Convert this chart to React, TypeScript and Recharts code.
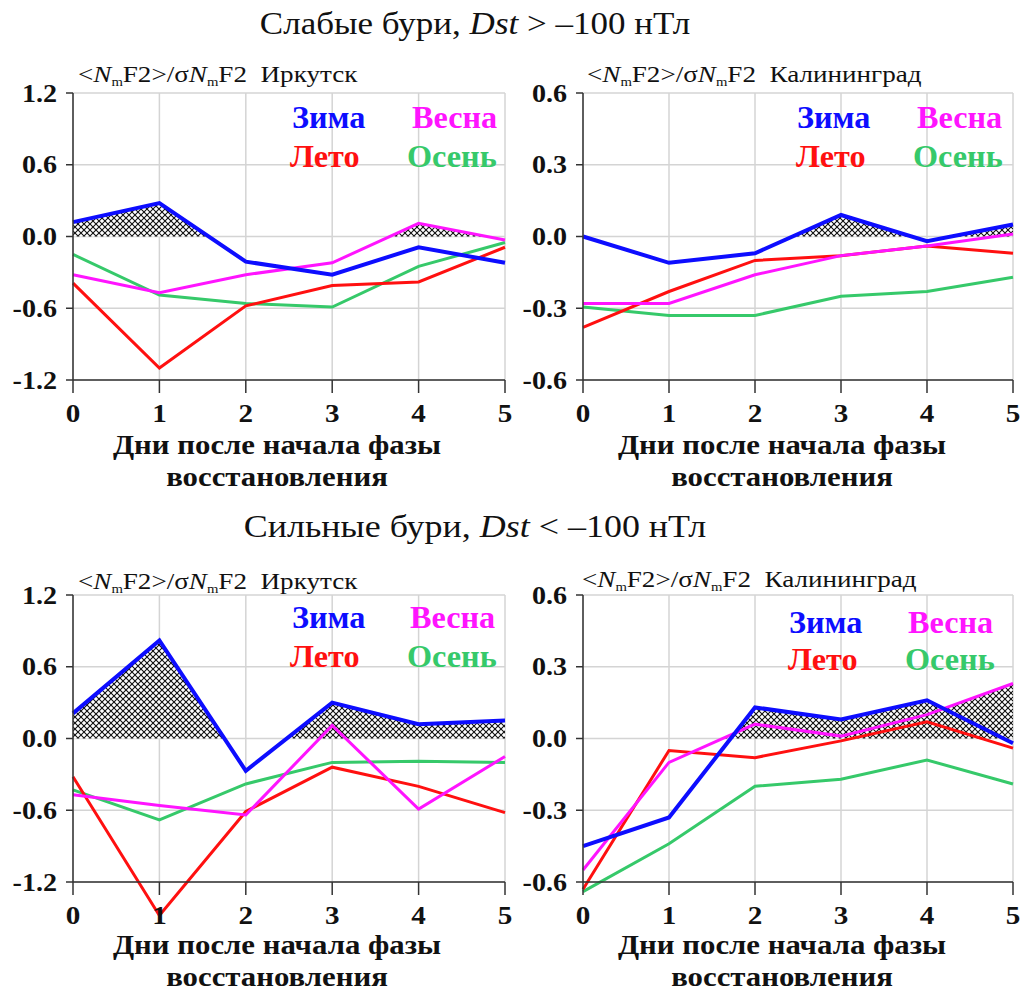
import React from 'react';
import { ComposedChart, Line, Area, XAxis, YAxis, CartesianGrid } from 'recharts';

// ---------- data ----------
const days = [0, 1, 2, 3, 4, 5];
const xTicks = [0, 1, 2, 3, 4, 5];
const yTicksIrk = [-1.2, -0.6, 0, 0.6, 1.2];
const yTicksKal = [-0.6, -0.3, 0, 0.3, 0.6];

const seasonNames = ['Зима', 'Весна', 'Лето', 'Осень'];

// weak storms, Irkutsk
const weakIrkWinter = [0.12, 0.28, -0.21, -0.32, -0.09, -0.22];
const weakIrkSpring = [-0.32, -0.47, -0.32, -0.22, 0.11, -0.03];
const weakIrkSummer = [-0.39, -1.1, -0.58, -0.41, -0.38, -0.09];
const weakIrkAutumn = [-0.15, -0.49, -0.56, -0.59, -0.25, -0.05];

// weak storms, Kaliningrad
const weakKalWinter = [0.0, -0.11, -0.07, 0.09, -0.02, 0.05];
const weakKalSpring = [-0.28, -0.28, -0.16, -0.08, -0.04, 0.01];
const weakKalSummer = [-0.38, -0.23, -0.1, -0.08, -0.04, -0.07];
const weakKalAutumn = [-0.295, -0.33, -0.33, -0.25, -0.23, -0.17];

// strong storms, Irkutsk
const strongIrkWinter = [0.21, 0.82, -0.27, 0.3, 0.12, 0.15];
const strongIrkSpring = [-0.47, -0.56, -0.64, 0.11, -0.59, -0.15];
const strongIrkSummer = [-0.32, -1.48, -0.61, -0.24, -0.4, -0.62];
const strongIrkAutumn = [-0.43, -0.68, -0.38, -0.2, -0.19, -0.2];

// strong storms, Kaliningrad
const strongKalWinter = [-0.45, -0.33, 0.13, 0.08, 0.16, -0.02];
const strongKalSpring = [-0.55, -0.1, 0.06, 0.01, 0.1, 0.23];
const strongKalSummer = [-0.63, -0.05, -0.08, -0.01, 0.07, -0.04];
const strongKalAutumn = [-0.64, -0.44, -0.2, -0.17, -0.09, -0.19];

// ---------- style ----------
const FONT = '"Liberation Serif", "Times New Roman", serif';
const COLORS = { winter: '#0d0dff', spring: '#ff14ff', summer: '#ff1010', autumn: '#36c96a' };

// upper envelope of all series and zero (for the hatched region)
function envelope(xs: number[], series: number[][]) {
  const pts: { x: number; h: number }[] = [];
  for (let i = 0; i < xs.length - 1; i++) {
    const lines = series.map((s) => [s[i], s[i + 1]]).concat([[0, 0]]);
    const ts = [0, 1];
    for (let a = 0; a < lines.length; a++) {
      for (let b = a + 1; b < lines.length; b++) {
        const d0 = lines[a][0] - lines[b][0];
        const d1 = lines[a][1] - lines[b][1];
        if (d0 * d1 < 0) ts.push(d0 / (d0 - d1));
      }
    }
    ts.sort((p, q) => p - q);
    ts.forEach((t, k) => {
      if (i > 0 && k === 0) return;
      const h = Math.max(...lines.map((l) => l[0] + (l[1] - l[0]) * t));
      pts.push({ x: xs[i] + (xs[i + 1] - xs[i]) * t, h });
    });
  }
  return pts;
}

const XTick = (props: any) => {
  const { x, y, payload } = props;
  return (
    <text
      transform={`translate(${x},${y + 27}) scale(1.12,1)`}
      textAnchor="middle"
      fontFamily={FONT}
      fontWeight="bold"
      fontSize={26}
      fill="#111"
    >
      {payload.value}
    </text>
  );
};

const YTick = (props: any) => {
  const { x, y, payload } = props;
  return (
    <text
      transform={`translate(${x},${y + 8.6}) scale(1.08,1)`}
      textAnchor="end"
      fontFamily={FONT}
      fontWeight="bold"
      fontSize={26}
      fill="#111"
    >
      {Number(payload.value).toFixed(1)}
    </text>
  );
};

type PanelProps = {
  id: string;
  left: number;
  top: number;
  width: number;
  marginRight: number;
  yTicks: number[];
  winter: number[];
  spring: number[];
  summer: number[];
  autumn: number[];
};

function Panel(p: PanelProps) {
  const data = days.map((d, i) => ({
    x: d,
    winter: p.winter[i],
    spring: p.spring[i],
    summer: p.summer[i],
    autumn: p.autumn[i],
  }));
  const env = envelope(days, [p.winter, p.spring, p.summer, p.autumn]);
  const lim = p.yTicks[p.yTicks.length - 1];
  return (
    <div className="noclip" style={{ position: 'absolute', left: p.left, top: p.top }}>
      <ComposedChart
        width={p.width}
        height={358}
        data={data}
        margin={{ top: 13, right: p.marginRight, left: 0, bottom: 0 }}
      >
        <defs>
          <pattern id={`hatch-${p.id}`} width={6} height={6} patternUnits="userSpaceOnUse">
            <rect width={6} height={6} fill="#fff" />
            <path d="M0,0 L6,6 M-1,5 L1,7 M5,-1 L7,1" stroke="#111" strokeWidth={1.1} />
            <path d="M6,0 L0,6 M-1,1 L1,-1 M5,7 L7,5" stroke="#111" strokeWidth={1.1} />
          </pattern>
        </defs>
        <CartesianGrid stroke="#d4d4d4" strokeWidth={1.5} />
        <XAxis
          dataKey="x"
          type="number"
          domain={[0, 5]}
          ticks={xTicks}
          height={58}
          interval={0}
          tickSize={13}
          tickMargin={2}
          stroke="#333"
          strokeWidth={1.5}
          tick={<XTick />}
        />
        <YAxis
          type="number"
          domain={[-lim, lim]}
          ticks={p.yTicks}
          allowDataOverflow
          width={73}
          interval={0}
          tickSize={7}
          tickMargin={9}
          stroke="#333"
          strokeWidth={1.5}
          tick={<YTick />}
        />
        <Area
          data={env}
          dataKey="h"
          type="linear"
          stroke="none"
          fill={`url(#hatch-${p.id})`}
          fillOpacity={1}
          baseValue={0}
          isAnimationActive={false}
        />
        <Line dataKey="autumn" type="linear" stroke={COLORS.autumn} strokeWidth={3} dot={false} isAnimationActive={false} />
        <Line dataKey="summer" type="linear" stroke={COLORS.summer} strokeWidth={3} dot={false} isAnimationActive={false} />
        <Line dataKey="spring" type="linear" stroke={COLORS.spring} strokeWidth={3} dot={false} isAnimationActive={false} />
        <Line dataKey="winter" type="linear" stroke={COLORS.winter} strokeWidth={4} dot={false} isAnimationActive={false} />
      </ComposedChart>
    </div>
  );
}

function T(props: {
  x: number;
  y: number;
  size: number;
  bold?: boolean;
  anchor?: 'start' | 'middle' | 'end';
  fill?: string;
  sx?: number;
  children: React.ReactNode;
}) {
  return (
    <text
      transform={`translate(${props.x},${props.y}) scale(${props.sx ?? 1},1)`}
      fontFamily={FONT}
      fontSize={props.size}
      fontWeight={props.bold ? 'bold' : 'normal'}
      textAnchor={props.anchor ?? 'start'}
      fill={props.fill ?? '#111'}
      style={{ whiteSpace: 'pre' }}
    >
      {props.children}
    </text>
  );
}

function Subtitle({ x, y, city }: { x: number; y: number; city: string }) {
  return (
    <text
      transform={`translate(${x},${y}) scale(1.13,1)`}
      fontFamily={FONT}
      fontSize={24}
      fill="#111"
      style={{ whiteSpace: 'pre' }}
    >
      {'<'}
      <tspan fontStyle="italic">N</tspan>
      <tspan fontSize={13} dy={4}>m</tspan>
      <tspan dy={-4}>{'F2>/σ'}</tspan>
      <tspan fontStyle="italic">N</tspan>
      <tspan fontSize={13} dy={4}>m</tspan>
      <tspan dy={-4}>{'F2  ' + city}</tspan>
    </text>
  );
}

function Legend({ pos }: { pos: number[][] }) {
  const cols = [COLORS.winter, COLORS.spring, COLORS.summer, COLORS.autumn];
  return (
    <>
      {seasonNames.map((n, i) => (
        <T key={n} x={pos[i][0]} y={pos[i][1]} size={31} bold fill={cols[i]} sx={1.04}>
          {n}
        </T>
      ))}
    </>
  );
}

function AxisLabel({ cx, y }: { cx: number; y: number }) {
  return (
    <>
      <T x={cx} y={y} size={28} bold anchor="middle" sx={1.1}>
        Дни после начала фазы
      </T>
      <T x={cx} y={y + 32} size={28} bold anchor="middle" sx={1.1}>
        восстановления
      </T>
    </>
  );
}

export default function App() {
  return (
    <div
      style={{
        position: 'absolute',
        left: 0,
        top: 0,
        width: 1021,
        height: 991,
        background: '#fff',
        overflow: 'hidden',
      }}
    >
      <style>{`.noclip [clip-path]{clip-path:none !important;}`}</style>
      <Panel id="a" left={0} top={80} width={520} marginRight={15} yTicks={yTicksIrk}
        winter={weakIrkWinter} spring={weakIrkSpring} summer={weakIrkSummer} autumn={weakIrkAutumn} />
      <Panel id="b" left={510} top={80} width={511} marginRight={8} yTicks={yTicksKal}
        winter={weakKalWinter} spring={weakKalSpring} summer={weakKalSummer} autumn={weakKalAutumn} />
      <Panel id="c" left={0} top={582} width={520} marginRight={15} yTicks={yTicksIrk}
        winter={strongIrkWinter} spring={strongIrkSpring} summer={strongIrkSummer} autumn={strongIrkAutumn} />
      <Panel id="d" left={510} top={582} width={511} marginRight={8} yTicks={yTicksKal}
        winter={strongKalWinter} spring={strongKalSpring} summer={strongKalSummer} autumn={strongKalAutumn} />

      <svg
        width={1021}
        height={991}
        style={{ position: 'absolute', left: 0, top: 0, pointerEvents: 'none' }}
      >
        <T x={475} y={34} size={31} anchor="middle" sx={1.13}>
          Слабые бури, <tspan fontStyle="italic">Dst</tspan> {'> –100 нТл'}
        </T>
        <T x={475} y={537} size={31} anchor="middle" sx={1.16}>
          Сильные бури, <tspan fontStyle="italic">Dst</tspan> {'< –100 нТл'}
        </T>

        <Subtitle x={78} y={82} city="Иркутск" />
        <Subtitle x={587} y={82} city="Калининград" />
        <Subtitle x={78} y={589} city="Иркутск" />
        <Subtitle x={582} y={587} city="Калининград" />

        <Legend pos={[[292, 128], [412, 128], [290, 167], [407, 167]]} />
        <Legend pos={[[797, 128], [917, 128], [796, 167], [913, 167]]} />
        <Legend pos={[[292, 628], [410, 628], [290, 667], [407, 667]]} />
        <Legend pos={[[789, 633], [908, 633], [788, 670], [905, 670]]} />

        <AxisLabel cx={277} y={454} />
        <AxisLabel cx={782} y={454} />
        <AxisLabel cx={277} y={954} />
        <AxisLabel cx={782} y={954} />
      </svg>
    </div>
  );
}
